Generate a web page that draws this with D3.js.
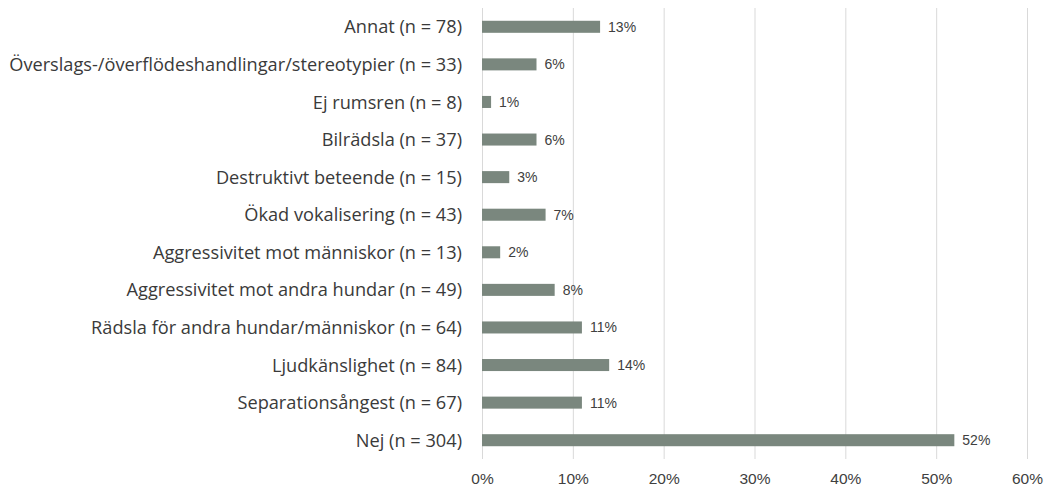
<!DOCTYPE html>
<html>
<head>
<meta charset="utf-8">
<script src="https://cdn.jsdelivr.net/npm/d3@7"></script>
<style>
  body { margin: 0; background: #fff; }
  .cat { font-family: "Open Sans", sans-serif; font-size: 18.2px; fill: #3a3a3a; }
  .val { font-family: "Liberation Sans", Arial, sans-serif; font-size: 14px; fill: #404040; }
  .tick text { font-family: "Liberation Sans", Arial, sans-serif; font-size: 15.5px; fill: #404040; }
</style>
</head>
<body>
<svg id="chart"></svg>
<script>
var categories = [
  "Annat (n = 78)",
  "Överslags-/överflödeshandlingar/stereotypier (n = 33)",
  "Ej rumsren (n = 8)",
  "Bilrädsla (n = 37)",
  "Destruktivt beteende (n = 15)",
  "Ökad vokalisering (n = 43)",
  "Aggressivitet mot människor (n = 13)",
  "Aggressivitet mot andra hundar (n = 49)",
  "Rädsla för andra hundar/människor (n = 64)",
  "Ljudkänslighet (n = 84)",
  "Separationsångest (n = 67)",
  "Nej (n = 304)"
];
var values = [13, 6, 1, 6, 3, 7, 2, 8, 11, 14, 11, 52];
var xTicks = [0, 10, 20, 30, 40, 50, 60];

var W = 1045, H = 489;
var margin = {top: 8, left: 482, right: 18, bottom: 30};

var svg = d3.select("#chart").attr("width", W).attr("height", H);

var xScale = d3.scaleLinear().domain([0, 60]).range([margin.left, W - margin.right]);
var yScale = d3.scaleBand().domain(categories)
               .range([margin.top, H - margin.bottom])
               .paddingInner(0.68).paddingOuter(0.34);

// gridlines
svg.append("g")
   .selectAll("line")
   .data(xTicks)
   .enter()
   .append("line")
   .attr("x1", function(d) { return xScale(d) + 0.5; })
   .attr("x2", function(d) { return xScale(d) + 0.5; })
   .attr("y1", margin.top)
   .attr("y2", H - margin.bottom)
   .style("stroke", "#d9d9d9")
   .style("stroke-width", 1);

// x axis labels
var xAxis = d3.axisBottom(xScale)
              .tickValues(xTicks)
              .tickSize(0)
              .tickPadding(0)
              .tickFormat(function(d) { return d + "%"; });
var gx = svg.append("g")
   .attr("transform", "translate(0," + (H - 16) + ")")
   .call(xAxis);
gx.select(".domain").remove();
gx.selectAll(".tick text").attr("dy", "0.71em");

// bars
svg.selectAll("rect.bar")
   .data(values)
   .enter()
   .append("rect")
   .attr("class", "bar")
   .attr("x", xScale(0))
   .attr("y", function(d, i) { return yScale(categories[i]); })
   .attr("width", function(d) { return xScale(d) - xScale(0); })
   .attr("height", yScale.bandwidth())
   .style("fill", "#7a877e");

// value labels
svg.selectAll("text.val")
   .data(values)
   .enter()
   .append("text")
   .attr("class", "val")
   .attr("x", function(d) { return xScale(d) + 8; })
   .attr("y", function(d, i) { return yScale(categories[i]) + yScale.bandwidth() / 2; })
   .attr("dy", "0.36em")
   .text(function(d) { return d + "%"; });

// category labels
svg.selectAll("text.cat")
   .data(categories)
   .enter()
   .append("text")
   .attr("class", "cat")
   .attr("x", margin.left - 20)
   .attr("y", function(d) { return yScale(d) + yScale.bandwidth() / 2; })
   .attr("dy", "0.36em")
   .attr("text-anchor", "end")
   .text(function(d) { return d; });
</script>
</body>
</html>
